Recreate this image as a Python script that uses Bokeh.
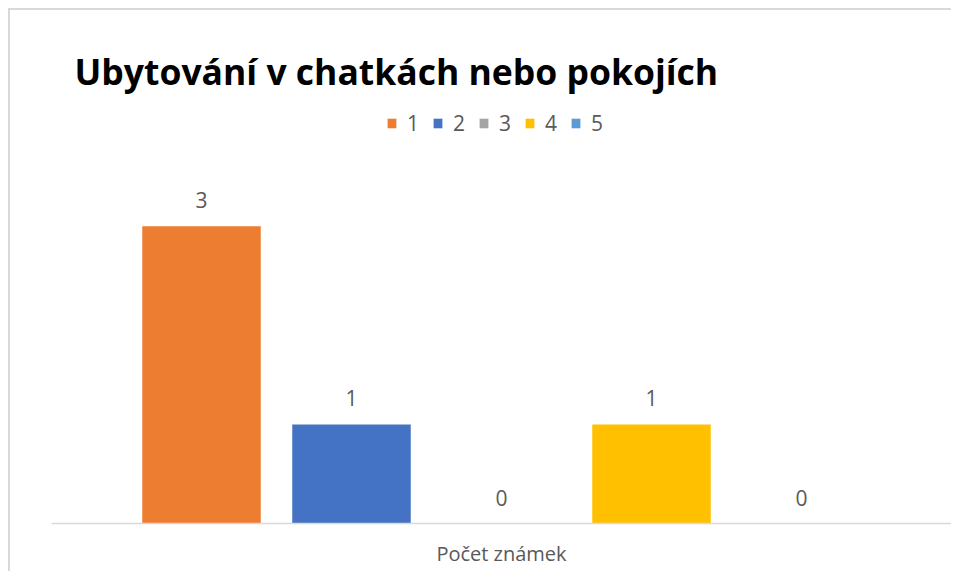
from bokeh.plotting import figure
from bokeh.layouts import column
from bokeh.models import ColumnDataSource, Legend, LegendItem, FixedTicker, Range1d
from bokeh.core.properties import value
from bokeh.embed import file_html
from bokeh.resources import INLINE

# data
series = ["1", "2", "3", "4", "5"]
counts = [3, 1, 0, 1, 0]
colors = ["#ED7D31", "#4472C4", "#A5A5A5", "#FFC000", "#5B9BD5"]
category_label = "Počet známek"
title_text = "Ubytování v chatkách nebo pokojích"

xpos = [i + 1 for i in range(len(series))]
src = ColumnDataSource(dict(x=xpos, top=counts, color=colors,
                            label=[str(c) for c in counts], name=series))

p = figure(width=941, height=561, output_backend="svg", toolbar_location=None,
           x_range=Range1d(0, 6), y_range=Range1d(0, 4.27),
           min_border_left=41, min_border_right=0, min_border_top=90,
           min_border_bottom=48, title=title_text)

p.title.text_font = "Open Sans"
p.title.text_font_style = "bold"
p.title.text_font_size = "35.5px"
p.title.text_color = "#000000"
p.title.align = "left"
p.title.offset = 23
p.title.standoff = 11

r = p.vbar(x="x", top="top", width=0.79, fill_color="color", line_color=None, source=src)
p.text(x="x", y="top", text="label", source=src, text_align="center",
       text_baseline="middle", y_offset=-26, text_font=value("Open Sans"),
       text_font_size="21px", text_color="#595959")

items = [LegendItem(label=s, renderers=[r], index=i) for i, s in enumerate(series)]
legend = Legend(items=items, orientation="horizontal", location=(335, 386),
                glyph_width=11, glyph_height=12, label_standoff=10, spacing=13,
                label_width=11, padding=0, margin=0, border_line_color=None,
                background_fill_alpha=0,
                label_text_font="Open Sans", label_text_font_size="21px",
                label_text_color="#595959", label_height=20)
p.add_layout(legend, "center")

p.grid.visible = False
p.yaxis.visible = False
p.outline_line_color = None
ax = p.xaxis[0]
ax.ticker = FixedTicker(ticks=[])
ax.axis_line_color = "#D9D9D9"
ax.axis_line_width = 1.5
ax.major_tick_line_color = None
ax.minor_tick_line_color = None
ax.major_label_text_font_size = "0px"
ax.axis_label = category_label
ax.axis_label_text_font = "Open Sans"
ax.axis_label_text_font_style = "normal"
ax.axis_label_text_font_size = "20px"
ax.axis_label_text_color = "#595959"
ax.axis_label_standoff = 16

layout = column(p, styles={"margin-left": "8px", "margin-top": "8px",
                           "border-top": "2px solid #D9D9D9",
                           "border-left": "2px solid #D9D9D9"})

open("out.html", "w").write(file_html(layout, INLINE))
